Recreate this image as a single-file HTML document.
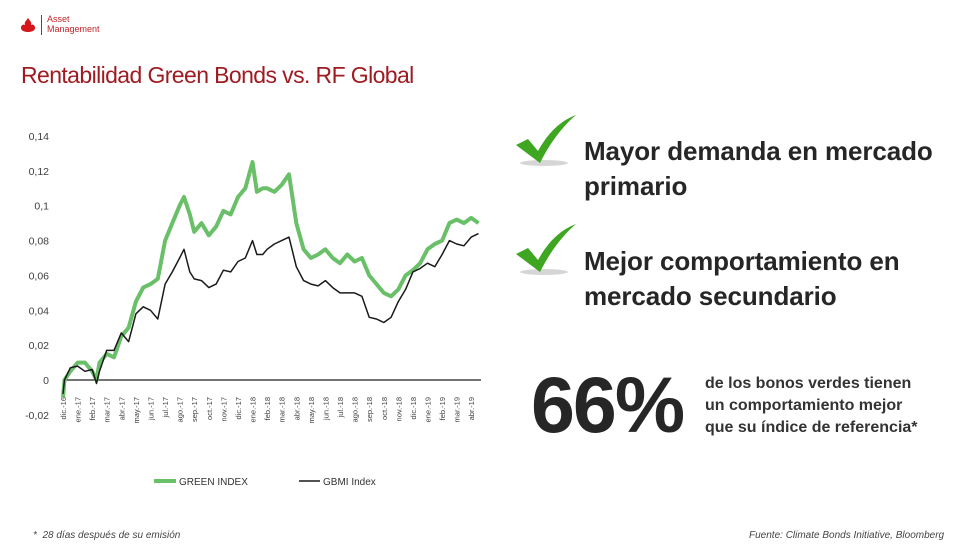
<!DOCTYPE html>
<html><head><meta charset="utf-8">
<style>
html,body{margin:0;padding:0;background:#fff;}
body{width:980px;height:556px;overflow:hidden;position:relative;font-family:"Liberation Sans",sans-serif;}
.t{position:absolute;white-space:nowrap;color:#262626;}
</style></head>
<body>
<svg style="position:absolute;left:20px;top:17px" width="16" height="16" viewBox="0 0 16 16"><path d="M8 1 C10 4 12 5 11 8 C13 7 15 8 15 11 C15 14 11 15 8 15 C5 15 1 14 1 11 C1 8 3 7 5 8 C4 5 6 4 8 1Z" fill="#d5171c"/></svg>
<div style="position:absolute;left:41px;top:15px;width:1px;height:20px;background:#d5171c"></div>
<div class="t" style="left:47px;top:14px;font-size:9px;line-height:10px;color:#c0252a">Asset<br>Management</div>
<div class="t" style="left:21px;top:62px;font-size:23px;color:#9e1b22;letter-spacing:-0.6px">Rentabilidad Green Bonds vs. RF Global</div>

<svg id="chart" style="position:absolute;left:0;top:0" width="500" height="500"></svg>

<svg style="position:absolute;left:514px;top:113px" width="64" height="56" viewBox="0 0 64 56"><ellipse cx="30" cy="50" rx="24" ry="3" fill="#bbb" opacity="0.6"/><path d="M2 32 L14 26 L24 38 C34 20 46 8 62 2 C48 14 36 30 26 50 Z" fill="#3ea620"/></svg>
<svg style="position:absolute;left:514px;top:222px" width="64" height="56" viewBox="0 0 64 56"><ellipse cx="30" cy="50" rx="24" ry="3" fill="#bbb" opacity="0.6"/><path d="M2 32 L14 26 L24 38 C34 20 46 8 62 2 C48 14 36 30 26 50 Z" fill="#3ea620"/></svg>
<div class="t" style="left:584px;top:134px;font-size:26px;line-height:35px;font-weight:bold;letter-spacing:-0.1px">Mayor demanda en mercado<br>primario</div>
<div class="t" style="left:584px;top:244px;font-size:26px;line-height:35px;font-weight:bold;letter-spacing:-0.1px">Mejor comportamiento en<br>mercado secundario</div>
<div class="t" style="left:531px;top:360px;font-size:79px;line-height:90px;font-weight:bold;letter-spacing:-2px">66%</div>
<div class="t" style="left:705px;top:373px;font-size:16px;line-height:22px;font-weight:bold;color:#333">de los bonos verdes tienen<br>un comportamiento mejor<br>que su índice de referencia*</div>
<div class="t" style="left:33px;top:530px;font-size:10px;font-style:italic;color:#444">*&nbsp; 28 días después de su emisión</div>
<div class="t" style="left:749px;top:530px;font-size:10px;font-style:italic;color:#444">Fuente: Climate Bonds Initiative, Bloomberg</div>

<script>
const monthLabels = ["dic.-16","ene.-17","feb.-17","mar.-17","abr.-17","may.-17","jun.-17","jul.-17","ago.-17","sep.-17","oct.-17","nov.-17","dic.-17","ene.-18","feb.-18","mar.-18","abr.-18","may.-18","jun.-18","jul.-18","ago.-18","sep.-18","oct.-18","nov.-18","dic.-18","ene.-19","feb.-19","mar.-19","abr.-19"];
const yTicks = [-0.02,0,0.02,0.04,0.06,0.08,0.1,0.12,0.14];
const yTickLabels = ["-0,02","0","0,02","0,04","0,06","0,08","0,1","0,12","0,14"];
const timeIdx = [0,0.1,0.5,1,1.5,2,2.3,2.5,3,3.5,4,4.5,5,5.5,6,6.5,7,7.5,8,8.3,8.7,9,9.5,10,10.5,11,11.5,12,12.5,13,13.3,13.7,14,14.5,15,15.5,16,16.5,17,17.5,18,18.5,19,19.5,20,20.5,21,21.5,22,22.5,23,23.5,24,24.5,25,25.5,26,26.5,27,27.5,28,28.5];
const greenIndex = [-0.01,0,0.005,0.01,0.01,0.005,0,0.01,0.015,0.013,0.025,0.03,0.045,0.053,0.055,0.058,0.08,0.09,0.1,0.105,0.095,0.085,0.09,0.083,0.088,0.097,0.095,0.105,0.11,0.125,0.108,0.11,0.11,0.108,0.112,0.118,0.09,0.075,0.07,0.072,0.075,0.07,0.067,0.072,0.068,0.07,0.06,0.055,0.05,0.048,0.052,0.06,0.063,0.067,0.075,0.078,0.08,0.09,0.092,0.09,0.093,0.09];
const gbmiIndex = [-0.008,0,0.007,0.008,0.005,0.006,-0.002,0.005,0.017,0.017,0.027,0.022,0.038,0.042,0.04,0.035,0.055,0.062,0.07,0.075,0.062,0.058,0.057,0.053,0.055,0.063,0.062,0.068,0.07,0.08,0.072,0.072,0.075,0.078,0.08,0.082,0.065,0.057,0.055,0.054,0.057,0.053,0.05,0.05,0.05,0.048,0.036,0.035,0.033,0.036,0.045,0.052,0.062,0.064,0.067,0.065,0.072,0.08,0.078,0.077,0.082,0.084];

const svg=document.getElementById('chart');
const NS='http://www.w3.org/2000/svg';
const x=m=>63+m*14.58;
const y=v=>380-v*1743;
function mk(tag,attrs){const e=document.createElementNS(NS,tag);for(const k in attrs)e.setAttribute(k,attrs[k]);svg.appendChild(e);return e;}
yTicks.forEach((v,i)=>{const t=mk('text',{x:49,y:y(v)+4,'text-anchor':'end','font-size':'10.5','fill':'#404040','font-family':'Liberation Sans, sans-serif'});t.textContent=yTickLabels[i];

});
const zl=mk('line',{x1:63,x2:481,y1:y(0),y2:y(0),stroke:'#222','stroke-width':1.3});


monthLabels.forEach((l,i)=>{const px=x(i)+3;const t=mk('text',{x:0,y:0,transform:`translate(${px},${397}) rotate(-90)`,'text-anchor':'end','font-size':'7.5','fill':'#404040','font-family':'Liberation Sans, sans-serif'});t.textContent=l;

});
function path(arr){return arr.map((v,i)=>(i?'L':'M')+x(timeIdx[i]).toFixed(1)+' '+y(v).toFixed(1)).join(' ');}
const g=mk('path',{d:path(greenIndex),fill:'none',stroke:'#6abf69','stroke-width':4,'stroke-linejoin':'round'});


const b=mk('path',{d:path(gbmiIndex),fill:'none',stroke:'#1a1a1a','stroke-width':1.5,'stroke-linejoin':'round'});


const lg1=mk('line',{x1:154,x2:176,y1:481,y2:481,stroke:'#6abf69','stroke-width':4});


const lt1=mk('text',{x:179,y:485,'font-size':'10','fill':'#333','font-family':'Liberation Sans, sans-serif'});lt1.textContent='GREEN INDEX';


const lg2=mk('line',{x1:299,x2:320,y1:481,y2:481,stroke:'#1a1a1a','stroke-width':1.5});


const lt2=mk('text',{x:323,y:485,'font-size':'10','fill':'#333','font-family':'Liberation Sans, sans-serif'});lt2.textContent='GBMI Index';


</script>
</body></html>
